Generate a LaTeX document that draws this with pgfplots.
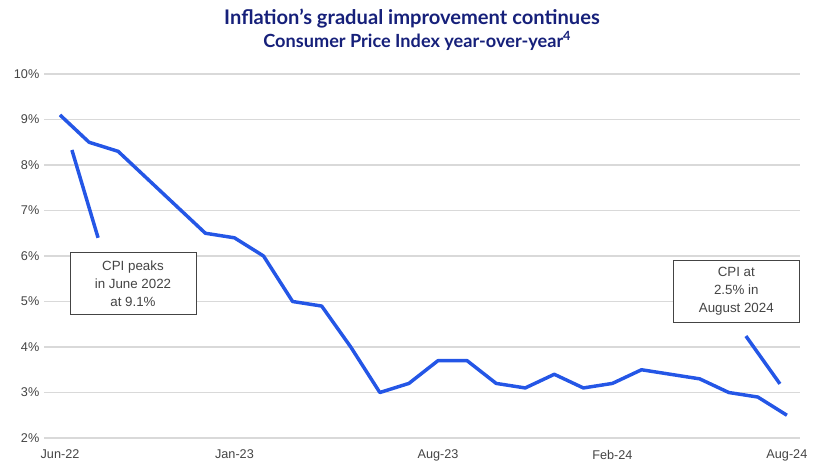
\documentclass[border=0pt]{standalone}
\usepackage{pgfplots}
\pgfplotsset{compat=1.18}
\usepackage{fontspec}
\setmainfont{Liberation Sans}
\newfontfamily\titlefont{Lato}
\definecolor{navy}{RGB}{22,32,122}
\definecolor{lineblue}{RGB}{36,86,230}
\definecolor{gridgray}{RGB}{217,217,217}
\definecolor{txtgray}{RGB}{68,68,68}
\begin{document}
\begin{tikzpicture}
\path[use as bounding box] (0pt,0pt) rectangle (630pt,354pt);
\node[font=\titlefont\bfseries\fontsize{15.1}{17}\selectfont, text=navy, align=center] at (309pt,340pt) {Inflation’s gradual improvement continues};
\node[font=\titlefont\bfseries\fontsize{13.6}{15}\selectfont, text=navy, align=center] at (313pt,323pt) {Consumer Price Index year-over-year\textsuperscript{4}};
\begin{axis}[
  at={(33pt,25.5pt)}, anchor=south west,
  scale only axis, width=567pt, height=273pt,
  xmin=-0.55, xmax=25.45, ymin=2, ymax=10,
  axis line style={draw=none},
  tick style={draw=none},
  xtick={0,6,13,19,25},
  xticklabels={Jun-22,Jan-23,Aug-23,Feb-24,Aug-24},
  ytick={2,3,4,5,6,7,8,9,10},
  yticklabel={\pgfmathprintnumber{\tick}\%},
  /pgf/number format/assume math mode=true,
  ticklabel style={font=\fontsize{9.5}{11}\selectfont, text=txtgray},
  xticklabel style={yshift=-5.5pt},
  ymajorgrids, grid style={gridgray, line width=1.1pt},
  clip=false,
]
\addplot[lineblue, line width=2.6pt, line join=round] coordinates {
(0,9.1)(1,8.5)(2,8.3)(3,7.7)(4,7.1)(5,6.5)(6,6.4)(7,6.0)(8,5.0)(9,4.9)
(10,4.0)(11,3.0)(12,3.2)(13,3.7)(14,3.7)(15,3.2)(16,3.1)(17,3.4)(18,3.1)
(19,3.2)(20,3.5)(21,3.4)(22,3.3)(23,3.0)(24,2.9)(25,2.5)};
\draw[lineblue, line width=2.6pt] (axis cs:0.41,8.33) -- (axis cs:1.31,6.40);
\draw[lineblue, line width=2.6pt] (axis cs:23.59,4.24) -- (axis cs:24.76,3.19);
\node[draw=txtgray, fill=white, line width=0.6pt, minimum width=94.5pt, minimum height=47pt, align=center, text=txtgray, font=\fontsize{10}{13.5}\selectfont] at (axis cs:2.51,5.40) {CPI peaks\\in June 2022\\at 9.1\%};
\node[draw=txtgray, fill=white, line width=0.6pt, minimum width=95pt, minimum height=47pt, align=center, text=txtgray, font=\fontsize{10}{13.5}\selectfont] at (axis cs:23.26,5.22) {CPI at\\2.5\% in\\August 2024};
\end{axis}
\end{tikzpicture}
\end{document}
